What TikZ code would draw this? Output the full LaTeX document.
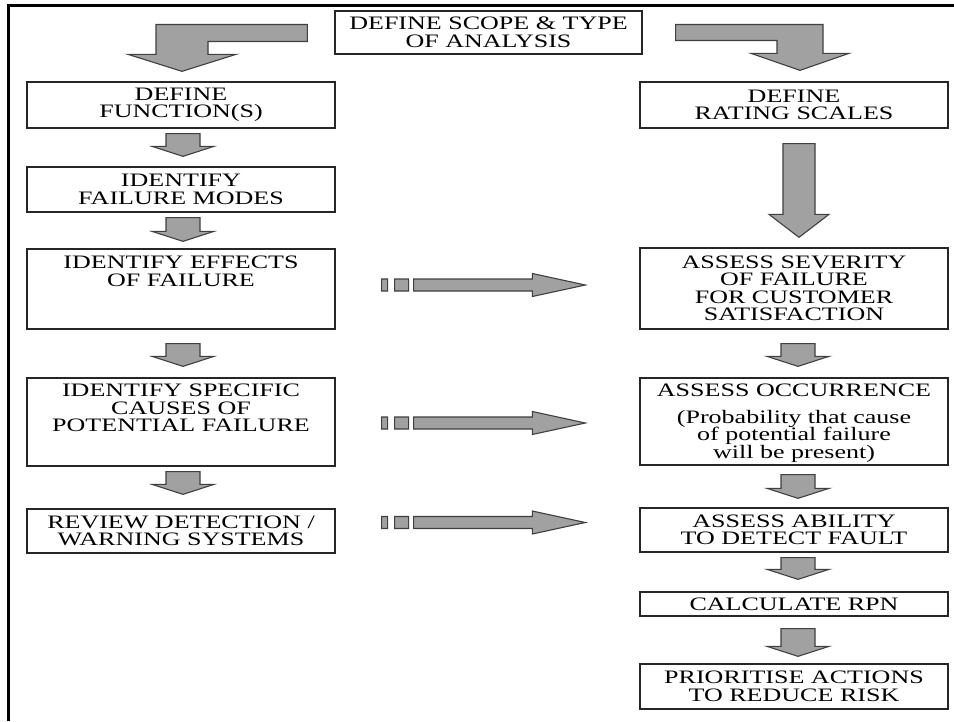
\documentclass[tikz,border=0pt]{standalone}
\usepackage{fontspec}
\setmainfont{Liberation Serif}
\newfontfamily\boxfont[FakeStretch=1.37]{Liberation Serif}
\usetikzlibrary{calc}

\tikzset{
  box/.style={draw=black!85, line width=1.3pt, fill=white, minimum width=308pt,
    inner sep=0pt, align=center, font=\boxfont\fontsize{19}{17.5}\selectfont},
  blk/.style={draw=black!75, fill=black!37, line width=1.1pt, line join=miter},
  frameline/.style={line width=2.7pt, draw=black}
}

% block arrow pointing down, from the bottom of #1 to the top of #2
% #3 gap below #1, #4 gap above #2, #5 shaft half width, #6 head half width,
% #7 head length, #8 horizontal offset
\newcommand{\flowdown}[8]{%
  \path[blk] let \p1=($(#1.south)+(#8,0)$), \p2=(#2.north) in
    (\x1-#5,\y1-#3) -- (\x1+#5,\y1-#3) -- (\x1+#5,\y2+#4+#7) -- (\x1+#6,\y2+#4+#7)
    -- (\x1,\y2+#4) -- (\x1-#6,\y2+#4+#7) -- (\x1-#5,\y2+#4+#7) -- cycle;}

% broken block arrow pointing right, from #1 to #2, #3 vertical offset
\newcommand{\flowright}[3]{%
  \path[blk] let \p1=($(#1.east)+(0,#3)$), \p2=(#2.west) in
    (\x1+46pt,\y1-6pt) rectangle (\x1+52pt,\y1+6pt)
    (\x1+59pt,\y1-6pt) rectangle (\x1+73pt,\y1+6pt)
    (\x1+78pt,\y1-6pt) -- (\x2-107pt,\y1-6pt) -- (\x2-107pt,\y1-11.5pt)
    -- (\x2-54pt,\y1) -- (\x2-107pt,\y1+11.5pt) -- (\x2-107pt,\y1+6pt)
    -- (\x1+78pt,\y1+6pt) -- cycle;}

\begin{document}
\begin{tikzpicture}[x=1pt, y=-1pt]
  \useasboundingbox (0,0) rectangle (954,721);
  \fill[white] (0,0) rectangle (954,721);
  \draw[frameline] (8.7,721) -- (8.7,5.3) -- (954,5.3);

  % scope box at the top
  \node[box, minimum width=307pt, minimum height=43pt] (scope) at (488.5,32.5)
    {DEFINE SCOPE \& TYPE\\OF ANALYSIS};

  % left column
  \node[box, minimum height=46pt] (fn) at (181,105) {DEFINE\\FUNCTION(S)};
  \node[box, minimum height=45pt] (modes) at (181,189.5) {IDENTIFY\\FAILURE MODES};
  \node[box] (effects) at (181,289)
    {\parbox[c][80pt][t]{300pt}{\centering\vspace*{7pt}IDENTIFY EFFECTS\\OF FAILURE}};
  \node[box] (causes) at (181,422)
    {\parbox[c][88pt][t]{300pt}{\centering\vspace*{6pt}IDENTIFY SPECIFIC\\CAUSES OF\\POTENTIAL FAILURE}};
  \node[box, minimum height=44pt] (review) at (181,531) {REVIEW DETECTION /\\WARNING SYSTEMS};

  % right column
  \node[box, minimum height=46pt] (rating) at (794,105) {DEFINE\\RATING SCALES};
  \node[box, minimum height=81pt] (severity) at (794,288.5)
    {ASSESS SEVERITY\\OF FAILURE\\FOR CUSTOMER\\SATISFACTION};
  \node[box] (occur) at (794,421.5)
    {\parbox[c][87pt][t]{300pt}{\centering\vspace*{6pt}ASSESS OCCURRENCE\\[9pt]
      (Probability that cause\\of potential failure\\will be present)}};
  \node[box, minimum height=44pt] (ability) at (794,530) {ASSESS ABILITY\\TO DETECT FAULT};
  \node[box, minimum height=24pt] (rpn) at (794,604) {CALCULATE RPN};
  \node[box, minimum height=45pt] (prior) at (794,686.5) {PRIORITISE ACTIONS\\TO REDUCE RISK};

  % bent arrows leaving the scope box
  \path[blk] let \p1=(scope.west), \p2=(fn.north), \p3=($(fn.north)+(1,0)$) in
    (\x1-27pt,\y1+8pt) -- (\x3-26pt,\y1+8pt) -- (\x3-26pt,\y2+27pt) -- (\x3-54pt,\y2+27pt)
    -- (\x3,\y2+10pt) -- (\x3+54pt,\y2+27pt) -- (\x3+26pt,\y2+27pt) -- (\x3+26pt,\y1-9pt)
    -- (\x1-27pt,\y1-9pt) -- cycle;
  \path[blk] let \p1=(scope.east), \p2=(rating.north), \p3=($(rating.north)+(6,0)$) in
    (\x1+33pt,\y1+8pt) -- (\x3+23pt,\y1+8pt) -- (\x3+23pt,\y2+28pt) -- (\x3+49pt,\y2+28pt)
    -- (\x3,\y2+11pt) -- (\x3-49pt,\y2+28pt) -- (\x3-23pt,\y2+28pt) -- (\x3-23pt,\y1-8pt)
    -- (\x1+33pt,\y1-8pt) -- cycle;

  % downward arrows, left column
  \flowdown{fn}{modes}{5pt}{10pt}{17pt}{31pt}{10pt}{2}
  \flowdown{modes}{effects}{5pt}{7pt}{17pt}{31pt}{10pt}{2}
  \flowdown{effects}{causes}{14pt}{11pt}{17pt}{31pt}{10pt}{2}
  \flowdown{causes}{review}{5pt}{14pt}{17pt}{31pt}{10pt}{2}

  % downward arrows, right column
  \flowdown{rating}{severity}{15pt}{10pt}{16pt}{30pt}{23pt}{5}
  \flowdown{severity}{occur}{14pt}{11pt}{17pt}{31pt}{10pt}{4}
  \flowdown{occur}{ability}{9pt}{9pt}{17pt}{31pt}{10pt}{4}
  \flowdown{ability}{rpn}{5pt}{12pt}{17pt}{31pt}{10pt}{4}
  \flowdown{rpn}{prior}{12pt}{7pt}{17pt}{31pt}{10pt}{4}

  % cross links between the columns
  \flowright{effects}{severity}{-4}
  \flowright{causes}{occur}{1}
  \flowright{review}{ability}{-8.5}
\end{tikzpicture}
\end{document}
